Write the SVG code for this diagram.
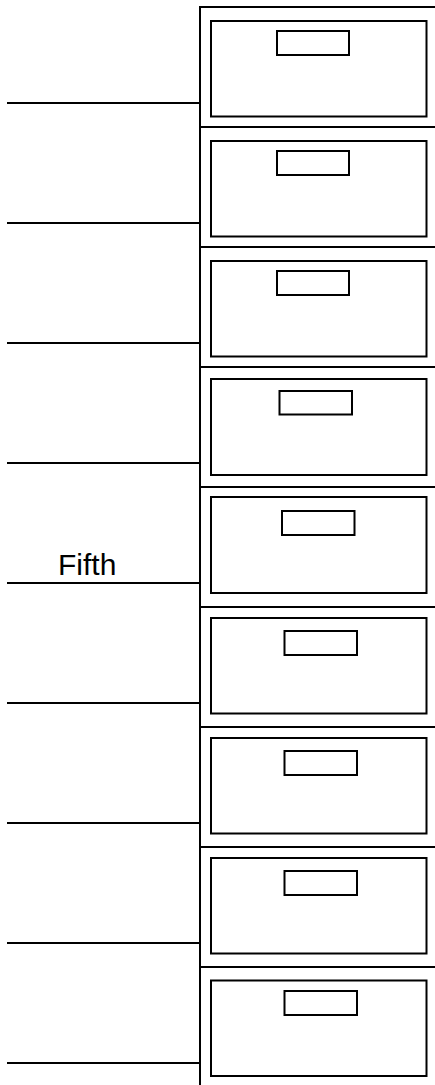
<svg xmlns="http://www.w3.org/2000/svg" width="435" height="1085" viewBox="0 0 435 1085">
<style>
.ln{stroke:#000;stroke-width:2;fill:none}
.dr{stroke:#000;stroke-width:2;fill:#fff}
.hd{stroke:#000;stroke-width:2;fill:#fff}
.lb{font-family:"Liberation Sans",Arial,sans-serif;font-size:30px;fill:#000}
</style>
<rect width="435" height="1085" fill="#fff"/>
<g id="cabinet">
<line class="ln" x1="200" y1="6" x2="200" y2="1085"/>
<line class="ln" x1="200" y1="7" x2="435" y2="7"/>
<line class="ln" x1="200" y1="127" x2="435" y2="127"/>
<line class="ln" x1="200" y1="247" x2="435" y2="247"/>
<line class="ln" x1="200" y1="367" x2="435" y2="367"/>
<line class="ln" x1="200" y1="487" x2="435" y2="487"/>
<line class="ln" x1="200" y1="607" x2="435" y2="607"/>
<line class="ln" x1="200" y1="727" x2="435" y2="727"/>
<line class="ln" x1="200" y1="847" x2="435" y2="847"/>
<line class="ln" x1="200" y1="967" x2="435" y2="967"/>
</g>
<g id="drawer1"><rect class="dr" x="211" y="21" width="215.5" height="95.5"/><rect class="hd" x="277" y="31" width="72" height="24"/></g>
<g id="drawer2"><rect class="dr" x="211" y="141" width="215.5" height="95.5"/><rect class="hd" x="277" y="151" width="72" height="24"/></g>
<g id="drawer3"><rect class="dr" x="211" y="261" width="215.5" height="95.5"/><rect class="hd" x="277" y="271" width="72" height="24"/></g>
<g id="drawer4"><rect class="dr" x="211" y="379" width="215.5" height="96"/><rect class="hd" x="279.5" y="391" width="72.5" height="23.5"/></g>
<g id="drawer5"><rect class="dr" x="211" y="497" width="215.5" height="96"/><rect class="hd" x="282" y="511" width="72.5" height="24"/></g>
<g id="drawer6"><rect class="dr" x="211" y="618" width="215.5" height="95.5"/><rect class="hd" x="284.5" y="631" width="72.5" height="24"/></g>
<g id="drawer7"><rect class="dr" x="211" y="738" width="215.5" height="95.5"/><rect class="hd" x="284.5" y="751" width="72.5" height="24"/></g>
<g id="drawer8"><rect class="dr" x="211" y="858" width="215.5" height="95.5"/><rect class="hd" x="284.5" y="871" width="72.5" height="24"/></g>
<g id="drawer9"><rect class="dr" x="211" y="980.5" width="215.5" height="95.5"/><rect class="hd" x="284.5" y="991" width="72.5" height="24"/></g>
<g id="connectors">
<line class="ln" x1="7" y1="103" x2="200" y2="103"/>
<line class="ln" x1="7" y1="223" x2="200" y2="223"/>
<line class="ln" x1="7" y1="343" x2="200" y2="343"/>
<line class="ln" x1="7" y1="463" x2="200" y2="463"/>
<line class="ln" x1="7" y1="583" x2="200" y2="583"/>
<line class="ln" x1="7" y1="703" x2="200" y2="703"/>
<line class="ln" x1="7" y1="823" x2="200" y2="823"/>
<line class="ln" x1="7" y1="943" x2="200" y2="943"/>
<line class="ln" x1="7" y1="1063" x2="200" y2="1063"/>
</g>
<g id="label-fifth"><text class="lb" x="58" y="575">Fifth</text></g>
</svg>
